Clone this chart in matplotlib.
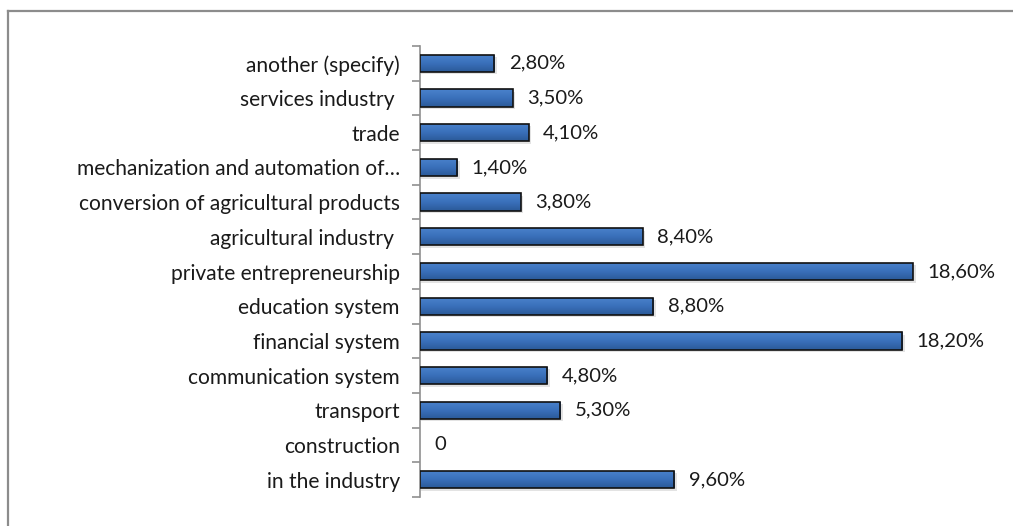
import matplotlib
matplotlib.use("Agg")
import matplotlib.pyplot as plt
import numpy as np
from matplotlib.patches import Rectangle
from matplotlib.lines import Line2D
from matplotlib.colors import LinearSegmentedColormap

categories = [
    "in the industry",
    "construction",
    "transport",
    "communication system",
    "financial system",
    "education system",
    "private entrepreneurship",
    "agricultural industry ",
    "conversion of agricultural products",
    "mechanization and automation of\u2026",
    "trade",
    "services industry ",
    "another (specify)",
]
values = [9.6, 0.0, 5.3, 4.8, 18.2, 8.8, 18.6, 8.4, 3.8, 1.4, 4.1, 3.5, 2.8]
value_labels = ["9,60%", "0", "5,30%", "4,80%", "18,20%", "8,80%", "18,60%",
                "8,40%", "3,80%", "1,40%", "4,10%", "3,50%", "2,80%"]

plt.rcParams["font.family"] = ["Lato", "DejaVu Sans"]
FS = 14.6
FS_CAT = 15.1

fig = plt.figure(figsize=(10.13, 5.26), dpi=100)
fig.patch.set_facecolor("white")

# outer chart-area frame (left and top edges)
fig.add_artist(Line2D([8 / 1013, 8 / 1013], [0, 1 - 11 / 526], transform=fig.transFigure,
                      color="#8c8c8c", lw=1.6))
fig.add_artist(Line2D([8 / 1013, 1], [1 - 11 / 526, 1 - 11 / 526], transform=fig.transFigure,
                      color="#8c8c8c", lw=1.6))

ax = fig.add_axes([420 / 1013, (526 - 497) / 526, 530 / 1013, (497 - 46) / 526])
ax.set_xlim(0, 20)
ax.set_ylim(-0.5, len(categories) - 0.5)

cmap = LinearSegmentedColormap.from_list("barblue", ["#2b5a98", "#3a70bb", "#4a82cc"])
grad = np.linspace(0, 1, 64).reshape(-1, 1)
h = 0.5
for i, v in enumerate(values):
    if v <= 0:
        continue
    # soft drop shadow
    ax.add_patch(Rectangle((0.05, i - h / 2 - 0.07), v + 0.05, h, facecolor="#c8c8c8",
                           edgecolor="none", alpha=0.5, zorder=1))
    im = ax.imshow(grad, aspect="auto", cmap=cmap, origin="lower",
                   extent=(0, v, i - h / 2, i + h / 2), zorder=2, interpolation="bilinear")
    rect = Rectangle((0, i - h / 2), v, h, facecolor="none", edgecolor="#111111",
                     lw=1.2, zorder=3)
    ax.add_patch(rect)
    im.set_clip_path(rect)

for i, (v, lab) in enumerate(zip(values, value_labels)):
    ax.text(v + 0.55, i, lab, va="center", ha="left", fontsize=FS, color="#1a1a1a")

ax.set_yticks(np.arange(len(categories) + 1) - 0.5, minor=False)
ax.set_yticklabels([])
ax.set_yticks(np.arange(len(categories)), minor=True)
ax.set_yticklabels(categories, minor=True, fontsize=FS_CAT, color="#1a1a1a")
ax.tick_params(axis="y", which="major", length=6, color="#909090", width=1.2, direction="out")
ax.tick_params(axis="y", which="minor", length=0, pad=14.5)
ax.set_xticks([])
for s in ["top", "right", "bottom"]:
    ax.spines[s].set_visible(False)
ax.spines["left"].set_color("#909090")
ax.spines["left"].set_linewidth(1.2)

fig.savefig("out.png", dpi=100, facecolor="white")
